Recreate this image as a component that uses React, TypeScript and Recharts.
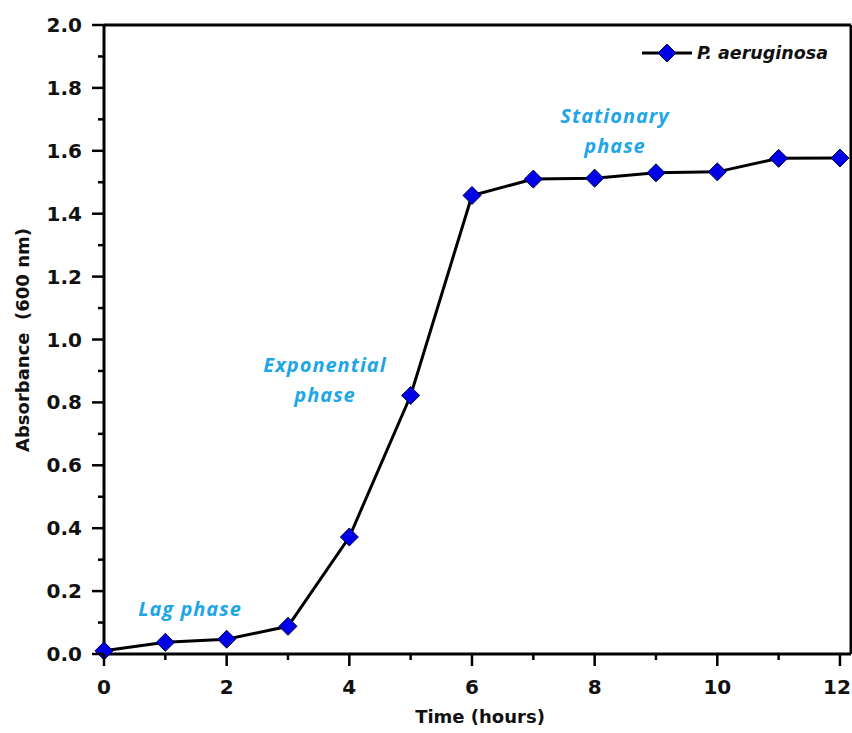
import { LineChart, Line, XAxis, YAxis, ReferenceLine } from 'recharts';

const hours = [0, 1, 2, 3, 4, 5, 6, 7, 8, 9, 10, 11, 12];
const absorbance = [0.01, 0.037, 0.047, 0.088, 0.372, 0.822, 1.458, 1.51, 1.513, 1.53, 1.533, 1.576, 1.577];

const xTicks = [0, 1, 2, 3, 4, 5, 6, 7, 8, 9, 10, 11, 12];
const yTicks = [0, 0.1, 0.2, 0.3, 0.4, 0.5, 0.6, 0.7, 0.8, 0.9, 1.0, 1.1, 1.2, 1.3, 1.4, 1.5, 1.6, 1.7, 1.8, 1.9, 2.0];

const data = hours.map((h, i) => ({ hour: h, od: absorbance[i] }));

const FONT = '"DejaVu Sans", Arial, sans-serif';
const NOTE = '"Open Sans", "Noto Sans", sans-serif';
const NOTE_COLOR = '#1ea6e6';

function XTick({ x, y, payload }: any) {
  const major = payload.value % 2 === 0;
  // last label sits against the frame edge, nudge it in a little
  const dx = payload.value === 12 ? -3 : 0;
  return (
    <g>
      <line x1={x} x2={x} y1={y} y2={y + (major ? 12 : 6)} stroke="#000" strokeWidth={2.5} />
      {major && (
        <text x={x + dx} y={y + 40} textAnchor="middle" fontFamily={FONT} fontWeight="bold" fontSize={20} fill="#111">
          {payload.value}
        </text>
      )}
    </g>
  );
}

function YTick({ x, y, payload }: any) {
  const major = Math.round(payload.value * 10) % 2 === 0;
  return (
    <g>
      <line x1={x} x2={x - (major ? 12 : 6)} y1={y} y2={y} stroke="#000" strokeWidth={2.5} />
      {major && (
        <text x={x - 22} y={y + 7} textAnchor="end" fontFamily={FONT} fontWeight="bold" fontSize={20} fill="#111">
          {payload.value.toFixed(1)}
        </text>
      )}
    </g>
  );
}

function Diamond({ cx, cy }: any) {
  const r = 9;
  return (
    <path
      d={`M${cx},${cy - r}L${cx + r},${cy}L${cx},${cy + r}L${cx - r},${cy}Z`}
      fill="#0000e6"
      stroke="#000040"
      strokeWidth={1}
    />
  );
}

function Note({ left, top, lines }: { left: number; top: number; lines: string[] }) {
  return (
    <div
      style={{
        position: 'absolute',
        left,
        top,
        transform: 'translateX(-50%)',
        textAlign: 'center',
        fontFamily: NOTE,
        fontWeight: 'bold',
        fontStyle: 'italic',
        fontSize: 20,
        letterSpacing: 1,
        lineHeight: '30px',
        color: NOTE_COLOR,
        whiteSpace: 'nowrap',
      }}
    >
      {lines.map((l) => (
        <div key={l}>{l}</div>
      ))}
    </div>
  );
}

export default function App() {
  return (
    <div style={{ position: 'absolute', left: 0, top: 0, width: 852, height: 733, background: '#fff' }}>
      <LineChart width={852} height={733} data={data} margin={{ top: 25, right: 1, bottom: 0, left: 0 }}>
        <XAxis
          dataKey="hour"
          type="number"
          domain={[0, 12.18]}
          ticks={xTicks}
          interval={0}
          tick={<XTick />}
          tickLine={false}
          tickSize={0}
          tickMargin={0}
          axisLine={{ stroke: '#000', strokeWidth: 3 }}
          height={79}
        />
        <YAxis
          type="number"
          domain={[0, 2]}
          ticks={yTicks}
          interval={0}
          tick={<YTick />}
          tickLine={false}
          tickSize={0}
          tickMargin={0}
          axisLine={{ stroke: '#000', strokeWidth: 3 }}
          width={104}
        />
        <ReferenceLine y={2} stroke="#000" strokeWidth={3} ifOverflow="visible" />
        <ReferenceLine x={12.18} stroke="#000" strokeWidth={3} ifOverflow="visible" />
        <Line
          dataKey="od"
          stroke="#000"
          strokeWidth={3}
          dot={<Diamond />}
          activeDot={false}
          isAnimationActive={false}
        />
      </LineChart>

      <div
        style={{
          position: 'absolute',
          left: 22,
          top: 340,
          transform: 'translate(-50%, -50%) rotate(-90deg)',
          transformOrigin: 'center',
          fontFamily: FONT,
          fontWeight: 'bold',
          fontSize: 18,
          color: '#111',
          whiteSpace: 'pre',
        }}
      >
        {'Absorbance  (600 nm)'}
      </div>
      <div
        style={{
          position: 'absolute',
          left: 480,
          top: 706,
          transform: 'translateX(-50%)',
          fontFamily: FONT,
          fontWeight: 'bold',
          fontSize: 18,
          color: '#111',
          whiteSpace: 'nowrap',
        }}
      >
        Time (hours)
      </div>

      <div style={{ position: 'absolute', left: 642, top: 41, display: 'flex', alignItems: 'center' }}>
        <svg width={50} height={24}>
          <line x1={0} x2={50} y1={12} y2={12} stroke="#000" strokeWidth={3} />
          <Diamond cx={25} cy={12} />
        </svg>
        <span
          style={{
            marginLeft: 5,
            fontFamily: FONT,
            fontWeight: 'bold',
            fontStyle: 'italic',
            fontSize: 17.5,
            color: '#111',
          }}
        >
          P. aeruginosa
        </span>
      </div>

      <Note left={190} top={594} lines={['Lag phase']} />
      <Note left={325} top={350} lines={['Exponential', 'phase']} />
      <Note left={615} top={101} lines={['Stationary', 'phase']} />
    </div>
  );
}
